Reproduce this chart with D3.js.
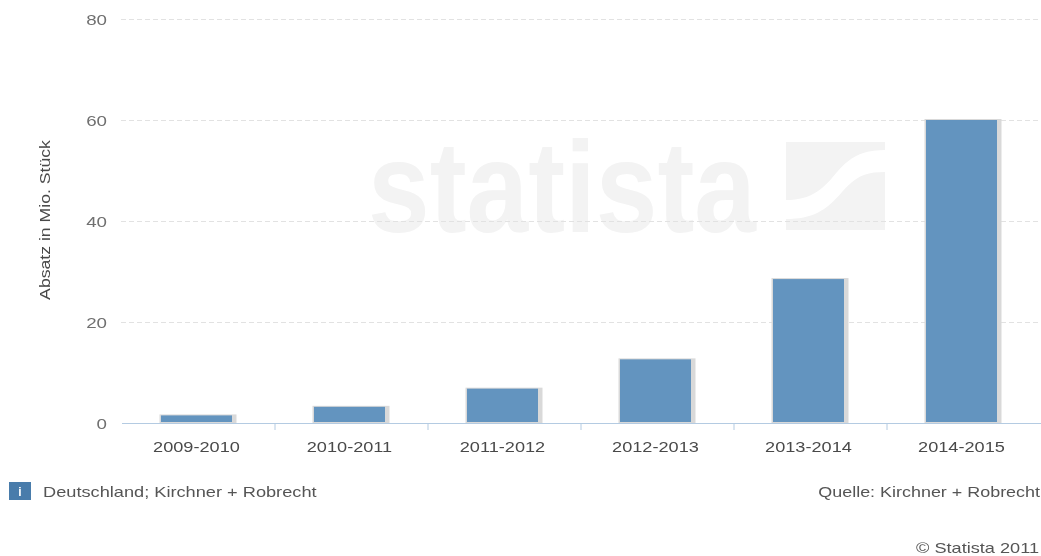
<!DOCTYPE html>
<html><head><meta charset="utf-8">
<script src="https://cdn.jsdelivr.net/npm/d3@7/dist/d3.min.js"></script>
<style>html,body{margin:0;padding:0;background:#fff}svg{display:block}text{font-family:"Liberation Sans",Arial,sans-serif}</style>
</head><body><svg id="c" width="1041" height="556"></svg>
<script>
const categories=["2009-2010","2010-2011","2011-2012","2012-2013","2013-2014","2014-2015"];
const values=[1.5,3.2,6.8,12.6,28.5,60];
const yTicks=[0,20,40,60,80];
const yLabel="Absatz in Mio. Stück";
const noteText="Deutschland; Kirchner + Robrecht";
const sourceText="Quelle: Kirchner + Robrecht";
const copyText="© Statista 2011";

const svg=d3.select("#c");
const defs=svg.append("defs");
defs.append("filter").attr("id","soft").attr("x","-5%").attr("y","-5%").attr("width","110%").attr("height","110%")
  .append("feGaussianBlur").attr("stdDeviation",0.5);
const root=svg.append("g").attr("filter","url(#soft)");
const x=d3.scaleBand().domain(categories).range([120,1038]).paddingInner(82/153).paddingOuter(41/153);
const y=d3.scaleLinear().domain([0,80]).range([423,19]);
const tickX=d=>x(d)-x.step()*x.paddingInner()/2+2;

function stretched(sel,k){ // horizontal stretch of the label glyphs, as in the reference
  sel.each(function(){const n=d3.select(this);n.attr("textLength",this.getComputedTextLength()*k).attr("lengthAdjust","spacingAndGlyphs");});
}

// watermark
const wm=root.append("g").attr("fill","#f3f3f3");
wm.append("text").attr("x",368).attr("y",232).attr("font-size",130).attr("font-weight",700).text("statista")
  .attr("textLength",388).attr("lengthAdjust","spacingAndGlyphs").style("font-family",'"Liberation Sans"');
wm.append("path").attr("d","M786 142H885V150C860 150 848 158 832 178C818 194 806 200 786 200Z");
wm.append("path").attr("d","M885 172V230H786V219C812 219 826 211 842 192C856 176 866 172 885 172Z");

// grid
root.append("g").selectAll("line").data(yTicks.filter(d=>d>0)).join("line")
  .attr("x1",121).attr("x2",1041).attr("y1",d=>y(d)+.5).attr("y2",d=>y(d)+.5)
  .attr("stroke","#e2e2e2").attr("stroke-dasharray","5 3");

// y axis labels
root.append("g").selectAll("text").data(yTicks).join("text")
  .attr("x",107).attr("y",d=>y(d)+5.5).attr("text-anchor","end").attr("font-size",15).attr("fill","#707070")
  .text(d=>d).call(stretched,1.25);

// shadows & bars
const bars=root.append("g");
bars.selectAll("rect.s").data(categories).join("rect").attr("class","s")
  .attr("x",d=>x(d)-1.5).attr("y",(d,i)=>y(values[i])-1).attr("width",x.bandwidth()+6)
  .attr("height",(d,i)=>y(0)-y(values[i])+1).attr("fill","#d9d9d9");
bars.selectAll("rect.b").data(categories).join("rect").attr("class","b")
  .attr("x",d=>x(d)).attr("y",(d,i)=>y(values[i])).attr("width",x.bandwidth())
  .attr("height",(d,i)=>y(0)-y(values[i])-1).attr("fill","#6394bf");

// x axis
root.append("line").attr("x1",122).attr("x2",1041).attr("y1",423.5).attr("y2",423.5).attr("stroke","#b4cbe2");
root.append("g").selectAll("line").data(categories.slice(1)).join("line")
  .attr("x1",tickX).attr("x2",tickX)
  .attr("y1",423).attr("y2",430).attr("stroke","#b4cbe2");
root.append("g").selectAll("text").data(categories).join("text")
  .attr("x",d=>x(d)+x.bandwidth()/2).attr("y",452).attr("text-anchor","middle")
  .attr("font-size",15).attr("fill","#4a4a4a").text(d=>d).call(stretched,1.21);

// y title
root.append("text").attr("transform","translate(50,220) rotate(-90)").attr("text-anchor","middle")
  .attr("font-size",15).attr("fill","#4a4a4a").text(yLabel).call(stretched,1.176);

// info
root.append("rect").attr("x",9).attr("y",482).attr("width",22).attr("height",18).attr("fill","#4a7cab");
root.append("text").attr("x",20).attr("y",496).attr("text-anchor","middle").attr("font-size",12).attr("font-weight",700).attr("fill","#fff").text("i");
root.append("text").attr("x",43).attr("y",497).attr("font-size",15).attr("fill","#555").text(noteText).call(stretched,1.213);
root.append("text").attr("x",1040).attr("y",497).attr("text-anchor","end").attr("font-size",15).attr("fill","#555").text(sourceText).call(stretched,1.195);
root.append("text").attr("x",1039).attr("y",553).attr("text-anchor","end").attr("font-size",15).attr("fill","#555").text(copyText).call(stretched,1.21);
</script></body></html>
